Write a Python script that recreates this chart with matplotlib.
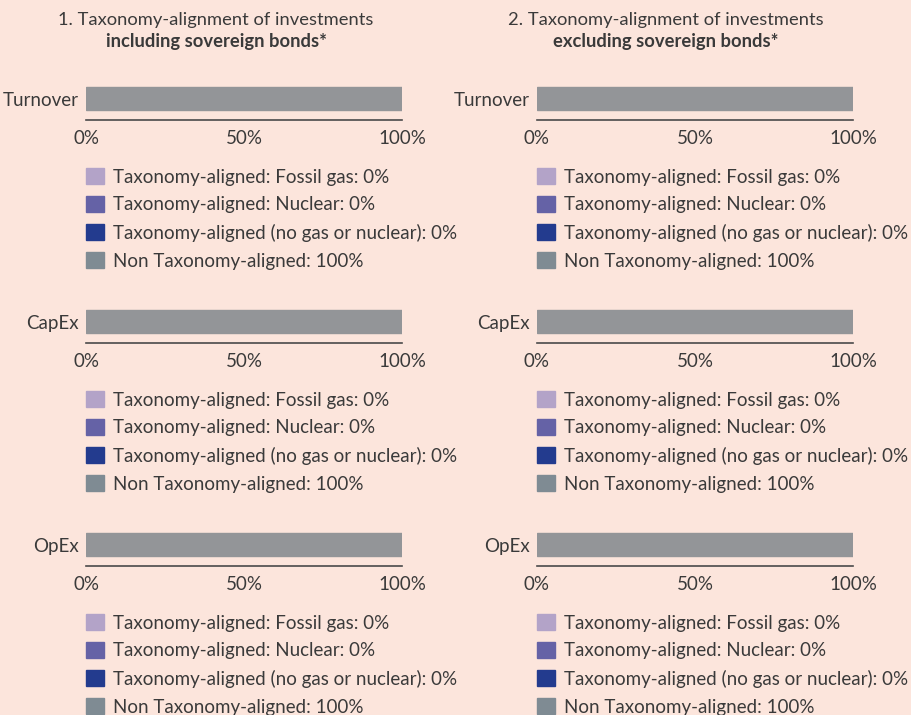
import matplotlib.pyplot as plt

plt.rcParams['font.family'] = ['Lato', 'DejaVu Sans']

BG = "#fce5dc"
TXT = "#3a3a3a"

panels = ["1. Taxonomy-alignment of investments", "2. Taxonomy-alignment of investments"]
panel_bold = ["including sovereign bonds*", "excluding sovereign bonds*"]
metrics = ["Turnover", "CapEx", "OpEx"]
series = ["Taxonomy-aligned: Fossil gas", "Taxonomy-aligned: Nuclear",
          "Taxonomy-aligned (no gas or nuclear)", "Non Taxonomy-aligned"]
colors = ["#b3a3c8", "#6562a6", "#233b8e", "#7f8b93"]
bar_color = "#939598"
# values per panel, per metric, per series (%)
values = [
    [[0, 0, 0, 100], [0, 0, 0, 100], [0, 0, 0, 100]],
    [[0, 0, 0, 100], [0, 0, 0, 100], [0, 0, 0, 100]],
]
ticks = [0, 50, 100]
tick_labels = ["0%", "50%", "100%"]

W, H = 911, 715
FS = 13.5
fig = plt.figure(figsize=(W / 100, H / 100), dpi=100, facecolor=BG)

bar_left = [86, 537]
bar_w = 316
bar_top = [87, 310, 533]
ax_h = 35
title_x = [216, 666]

for p in range(2):
    fig.text(title_x[p] / W, 1 - 20 / H, panels[p], ha="center", va="center",
             fontsize=13.2, color=TXT)
    fig.text(title_x[p] / W, 1 - 42 / H, panel_bold[p], ha="center", va="center",
             fontsize=13.2, color=TXT, fontweight="bold")
    for m in range(3):
        top = bar_top[m] - 2
        ax = fig.add_axes([bar_left[p] / W, 1 - (top + ax_h) / H, bar_w / W, ax_h / H])
        ax.set_facecolor("none")
        left = 0
        handles = []
        for s in range(4):
            v = values[p][m][s]
            h = ax.barh([metrics[m]], [v], left=left, height=0.66, color=colors[s],
                        label=f"{series[s]}: {v}%")
            handles.append(h)
            left += v
        # the drawn bar itself is plain grey in the reference
        for patch in handles[3]:
            patch.set_color(bar_color)
        hi = 0.33 + 2 / ax_h
        ax.set_ylim(hi - 1, hi)
        ax.set_xlim(0, 100)
        ax.set_xticks(ticks, tick_labels)
        for sp in ["top", "right", "left"]:
            ax.spines[sp].set_visible(False)
        ax.spines["bottom"].set_color("#4a4a4a")
        ax.spines["bottom"].set_linewidth(1.2)
        ax.tick_params(axis="x", length=0, pad=7, labelsize=FS, labelcolor=TXT)
        ax.tick_params(axis="y", length=0, pad=5, labelsize=FS, labelcolor=TXT)

        leg_handles = [plt.Rectangle((0, 0), 1, 1, color=c) for c in colors]
        leg_labels = [f"{series[s]}: {values[p][m][s]}%" for s in range(4)]
        leg_top = bar_top[m] + 81
        ax.legend(leg_handles, leg_labels, loc="upper left",
                  bbox_to_anchor=(bar_left[p] / W, 1 - leg_top / H),
                  bbox_transform=fig.transFigure, frameon=False, fontsize=FS,
                  handlelength=0.95, handleheight=0.95, handletextpad=0.5,
                  labelspacing=0.55, borderpad=0, borderaxespad=0, labelcolor=TXT)

fig.savefig("out.png", dpi=100, facecolor=BG)
